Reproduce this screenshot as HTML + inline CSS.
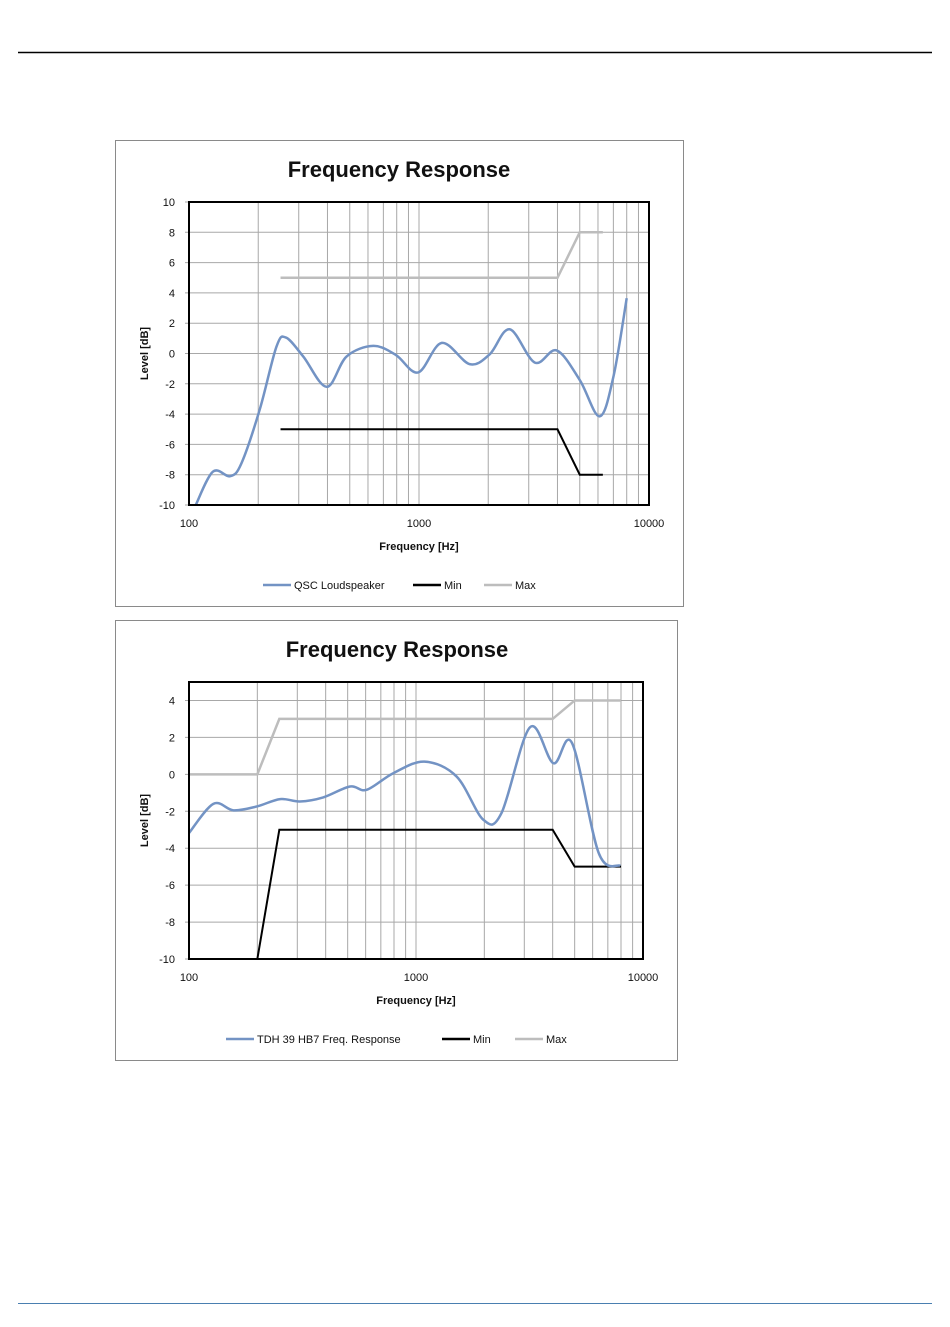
<!DOCTYPE html>
<html><head><meta charset="utf-8"><style>
body{margin:0;background:#fff;width:950px;height:1327px;position:relative;overflow:hidden;font-family:"Liberation Sans",sans-serif}
svg{position:absolute;left:0;top:0}
</style></head><body>
<svg id="s" width="950" height="1327">
<line x1="18" y1="52.5" x2="932" y2="52.5" stroke="#000" stroke-width="1.5"/>
<line x1="18" y1="1303.5" x2="932" y2="1303.5" stroke="#4a7fb0" stroke-width="1"/>
</svg>
<script>
// Chart 1 data
const c1Freq=[107,127,151,169,203,240,264,314,397,484,632,794,992,1256,1660,2030,2480,3190,3970,5000,6100,7010,8000];
const c1Level=[-10,-7.8,-8.1,-7.25,-3.7,0.45,1.05,-0.2,-2.2,-0.2,0.5,-0.1,-1.25,0.7,-0.7,-0.05,1.6,-0.6,0.2,-1.75,-4.15,-1.5,3.65];
const c1MinFreq=[250,4000,5000,6300];
const c1MinLevel=[-5,-5,-8,-8];
const c1MaxFreq=[250,4000,5000,6300];
const c1MaxLevel=[5,5,8,8];
const c1YTicks=[10,8,6,4,2,0,-2,-4,-6,-8,-10];
// Chart 2 data
const c2Freq=[100,128,157,199,252,308,390,512,606,794,1090,1510,1980,2380,3180,4030,4870,6380,7940];
const c2Level=[-3.18,-1.6,-1.95,-1.74,-1.34,-1.47,-1.25,-0.66,-0.84,0.06,0.69,-0.12,-2.46,-2.1,2.55,0.6,1.69,-4.26,-4.95];
const c2MinFreq=[100,200,250,4000,5000,8000];
const c2MinLevel=[-10,-10,-3,-3,-5,-5];
const c2MaxFreq=[100,200,250,4000,5000,8000];
const c2MaxLevel=[0,0,3,3,4,4];
const c2YTicks=[4,2,0,-2,-4,-6,-8,-10];
const xTickLabels=["100","1000","10000"];

const NS="http://www.w3.org/2000/svg";
const svg=document.getElementById('s');
function mk(tag,attrs,parent,text){const e=document.createElementNS(NS,tag);for(const k in attrs)e.setAttribute(k,attrs[k]);if(text!==undefined)e.textContent=text;(parent||svg).appendChild(e);return e;}

function drawChart(cfg){
  const g=mk('g',{});
  
  
  const fr=mk('rect',{x:cfg.frame[0]+0.5,y:cfg.frame[1]+0.5,width:cfg.frame[2]-cfg.frame[0],height:cfg.frame[3]-cfg.frame[1],fill:'#fff',stroke:'#8a8a8a','stroke-width':1},g);
  
  
  const L=cfg.plot[0],T=cfg.plot[1],R=cfg.plot[2],B=cfg.plot[3];
  const xs=f=>L+(Math.log10(f)-2)/2*(R-L);
  const ys=v=>B-(v-cfg.yMin)/(cfg.yMax-cfg.yMin)*(B-T);
  const t=mk('text',{x:cfg.titleX,y:cfg.titleY,'text-anchor':'middle','font-size':22,'font-weight':'bold',fill:'#111'},g,'Frequency Response');
  
  
  // grid
  for(let d=100;d<10000;d*=10){for(let m=1;m<10;m++){const x=xs(d*m);
    const gl=mk('line',{x1:x,y1:T,x2:x,y2:B,stroke:'#a8a8a8','stroke-width':1},g);
    
    }}
  cfg.yTicks.forEach(v=>{const y=ys(v);
    const gl=mk('line',{x1:L-4,y1:y,x2:R,y2:y,stroke:'#a8a8a8','stroke-width':1},g);
    
    
    const tl=mk('text',{x:L-14,y:y+4,'text-anchor':'end','font-size':11,fill:'#111'},g,String(v));
    
    });
  xTickLabels.forEach(s=>{const x=xs(+s);
    const tl=mk('text',{x:x,y:B+22,'text-anchor':'middle','font-size':11,fill:'#111'},g,s);
    
    });
  const xt=mk('text',{x:(L+R)/2,y:B+45,'text-anchor':'middle','font-size':11,'font-weight':'bold',fill:'#111'},g,'Frequency [Hz]');
  
  
  const yc=(T+B)/2;
  const yt=mk('text',{x:148,y:yc,'text-anchor':'middle','font-size':11,'font-weight':'bold',fill:'#111',transform:`rotate(-90 148 ${yc})`},g,'Level [dB]');
  
  
  // series
  const poly=(F,V)=>F.map((f,i)=>xs(f)+','+ys(V[i])).join(' ');
  const mx=mk('polyline',{points:poly(cfg.maxF,cfg.maxV),fill:'none',stroke:'#bdbdbd','stroke-width':2.5},g);
  
  
  const mn=mk('polyline',{points:poly(cfg.minF,cfg.minV),fill:'none',stroke:'#000','stroke-width':2},g);
  
  
  const P=cfg.f.map((f,i)=>[xs(f),ys(cfg.v[i])]);
  let d='M'+P[0][0]+','+P[0][1];
  for(let i=0;i<P.length-1;i++){const p0=P[i-1]||P[i],p1=P[i],p2=P[i+1],p3=P[i+2]||p2;
    d+=` C${p1[0]+(p2[0]-p0[0])/6},${p1[1]+(p2[1]-p0[1])/6} ${p2[0]-(p3[0]-p1[0])/6},${p2[1]-(p3[1]-p1[1])/6} ${p2[0]},${p2[1]}`;}
  const cv=mk('path',{d:d,fill:'none',stroke:'#7393c4','stroke-width':2.5},g);
  
  
  const bd=mk('rect',{x:L,y:T,width:R-L,height:B-T,fill:'none',stroke:'#000','stroke-width':2},g);
  
  
  // legend
  const ly=cfg.legendY;
  cfg.legend.forEach(it=>{
    const ll=mk('line',{x1:it[0],y1:ly,x2:it[0]+28,y2:ly,stroke:it[2],'stroke-width':2.5},g);
    
    
    const lt=mk('text',{x:it[0]+31,y:ly+4,'font-size':11,fill:'#111'},g,it[1]);
    
    
  });
}
drawChart({name:'chart-qsc-loudspeaker',frame:[115,140,683,606],plot:[189,202,649,505],yMin:-10,yMax:10,yTicks:c1YTicks,
  titleX:399,titleY:177,f:c1Freq,v:c1Level,minF:c1MinFreq,minV:c1MinLevel,maxF:c1MaxFreq,maxV:c1MaxLevel,legendY:585,
  legend:[[263,'QSC Loudspeaker','#7393c4'],[413,'Min','#000'],[484,'Max','#bdbdbd']]});
drawChart({name:'chart-tdh39',frame:[115,620,677,1060],plot:[189,682,643,959],yMin:-10,yMax:5,yTicks:c2YTicks,
  titleX:397,titleY:657,f:c2Freq,v:c2Level,minF:c2MinFreq,minV:c2MinLevel,maxF:c2MaxFreq,maxV:c2MaxLevel,legendY:1039,
  legend:[[226,'TDH 39 HB7 Freq. Response','#7393c4'],[442,'Min','#000'],[515,'Max','#bdbdbd']]});
</script>
</body></html>
